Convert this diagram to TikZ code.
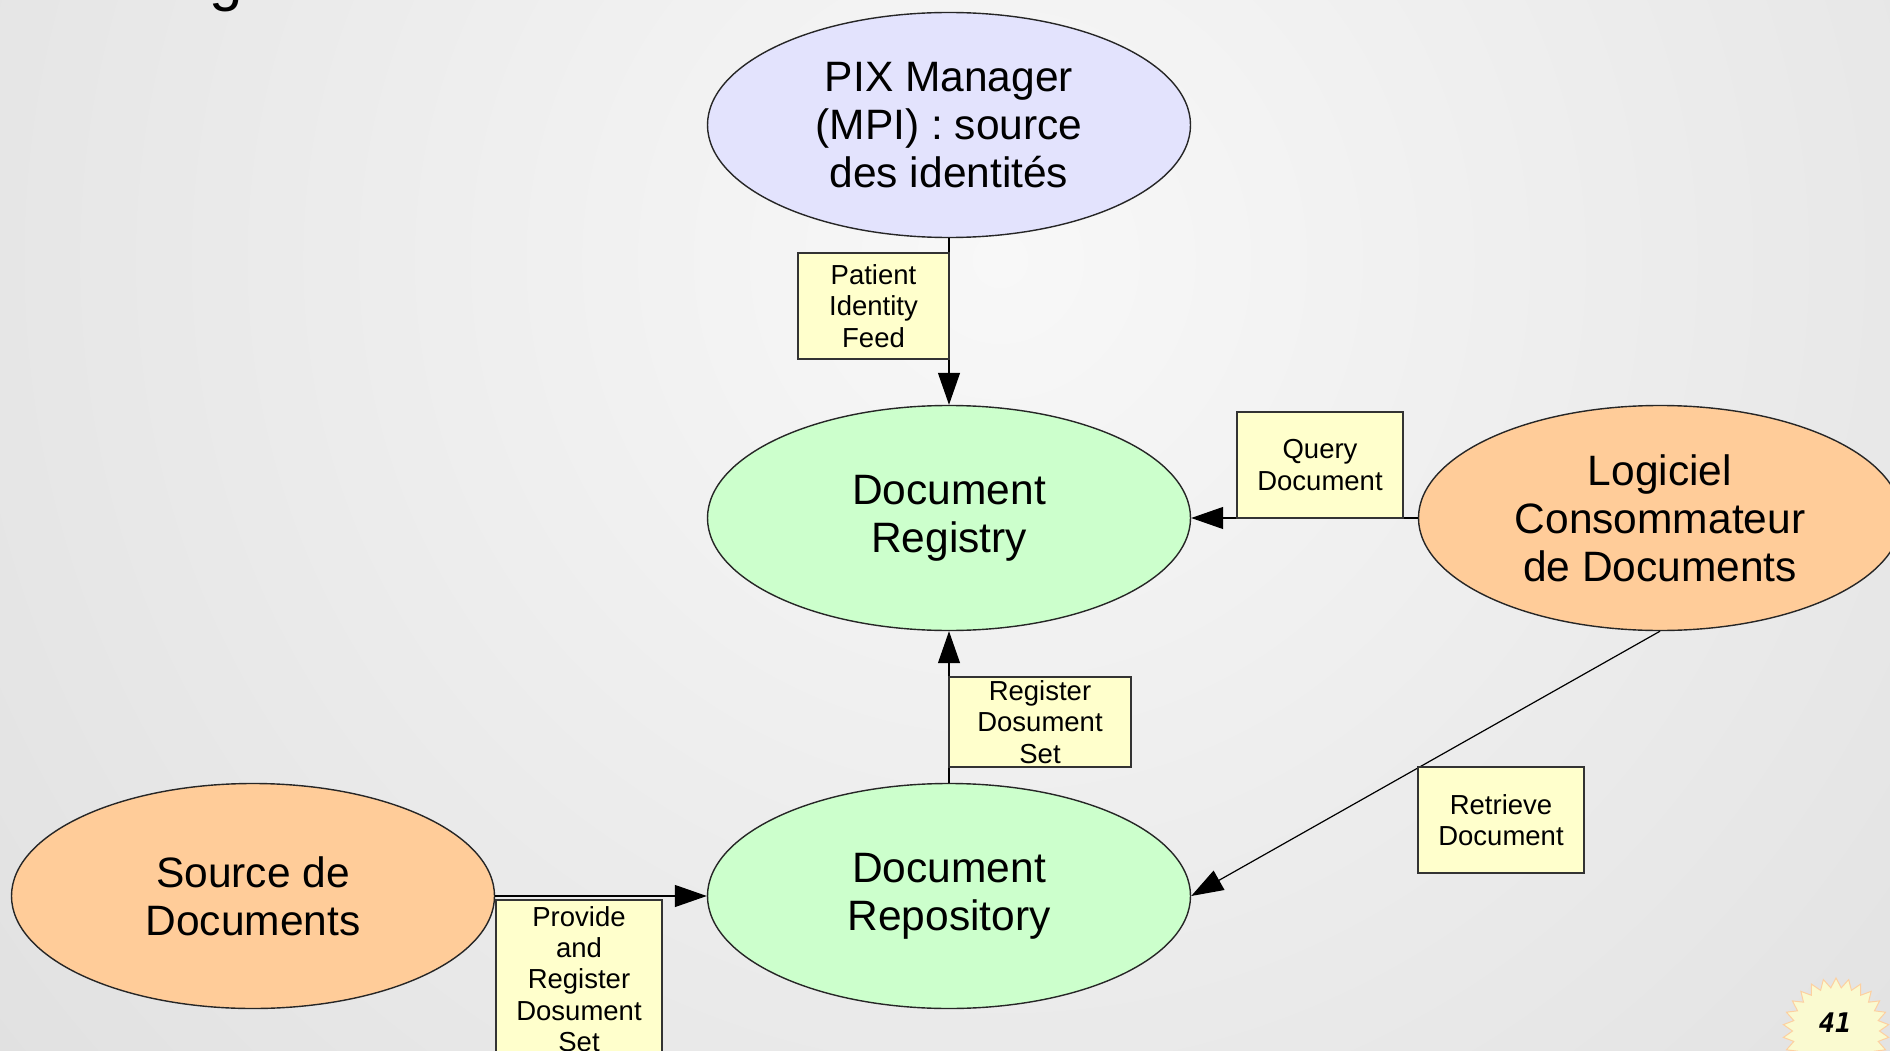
\documentclass[tikz,border=0pt]{standalone}
\usepackage{fontspec}
\setmainfont{Liberation Sans}
\newfontfamily\badgefont{DejaVu Sans Mono}
\usetikzlibrary{shapes.geometric,arrows.meta}

\definecolor{pixfill}{RGB}{227,227,253}
\definecolor{regfill}{RGB}{204,255,204}
\definecolor{actfill}{RGB}{255,204,153}
\definecolor{notefill}{RGB}{255,255,204}
\definecolor{bgin}{RGB}{248,248,248}
\definecolor{bgout}{RGB}{222,222,222}
\definecolor{badgefill}{RGB}{250,250,208}
\definecolor{badgeline}{RGB}{253,208,160}

\tikzset{
  actor/.style={ellipse, draw=black!85, line width=1.4pt, inner sep=0pt,
    minimum width=483pt, minimum height=225pt, align=center,
    font=\fontsize{42.5pt}{48pt}\selectfont},
  note/.style={rectangle, draw=black!80, line width=1.1pt, fill=notefill,
    inner sep=0pt, align=center, font=\fontsize{27.5pt}{31.3pt}\selectfont},
  flow/.style={draw=black, line width=1.2pt,
    -{Triangle[length=32pt,width=22pt]}},
}

\begin{document}
\begin{tikzpicture}[x=1pt,y=-1pt]
\useasboundingbox (0,0) rectangle (1890,1051);
\clip (0,0) rectangle (1890,1051);

% slide background
\shade[inner color=bgin, outer color=bgout] (1000,260) circle (1450);

% cut-off slide title
\node[anchor=base, inner sep=0pt, font=\fontsize{60pt}{72pt}\selectfont] (title) at (226,0) {g};

% actors
\node[actor, fill=pixfill] (pix) at (949,125) {PIX Manager\\(MPI) : source\\des identités};
\node[actor, fill=regfill] (registry) at (949,518) {Document\\Registry};
\node[actor, fill=regfill] (repository) at (949,896) {Document\\Repository};
\node[actor, fill=actfill] (source) at (253,896) {Source de\\Documents};
\node[actor, fill=actfill] (consumer) at (1660,518) {Logiciel\\Consommateur\\de Documents};

% transactions
\draw[flow] (pix.south) -- (registry.north);
\draw[flow] (repository.north) -- (registry.south);
\draw[flow] (consumer.west) -- (registry.east);
\draw[flow] (consumer.south) -- (repository.east);
\draw[flow] (source.east) -- (repository.west);

% transaction labels
\node[note, minimum width=151pt, minimum height=106pt] (pif) at (873.5,306) {Patient\\Identity\\Feed};
\node[note, minimum width=182pt, minimum height=90pt] (rds) at (1040,722) {Register\\Dosument\\Set};
\node[note, minimum width=166pt, minimum height=106pt] (qd) at (1320,465) {Query\\Document};
\node[note, minimum width=166pt, minimum height=106pt] (rd) at (1501,820) {Retrieve\\Document};
\node[note, minimum width=166pt, minimum height=158pt] (prds) at (579,979) {Provide\\and\\Register\\Dosument\\Set};

% page number badge
\node[star, star points=26, star point ratio=1.22, minimum size=106pt, inner sep=0pt,
  fill=badgefill, draw=badgeline, line width=1pt] (badge) at (1836,1031) {};
\node[font=\badgefont\bfseries\itshape\fontsize{27pt}{30pt}\selectfont] (pagenum) at (1835,1023) {41};
\end{tikzpicture}
\end{document}
